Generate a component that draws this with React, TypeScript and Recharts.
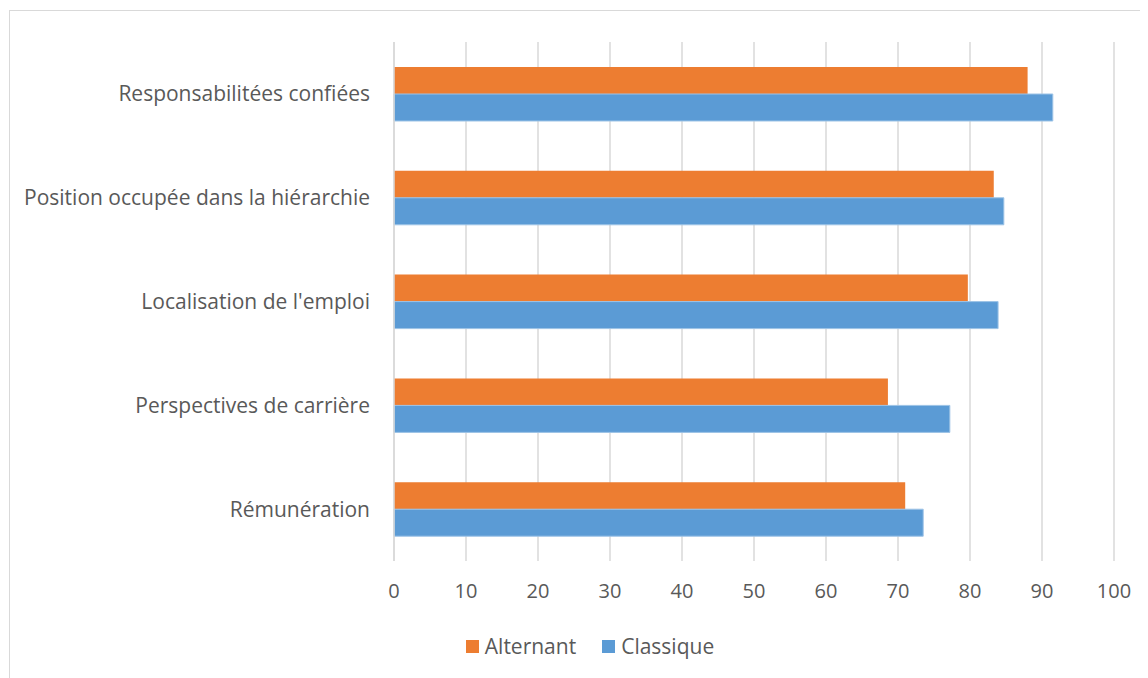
import { BarChart, Bar, XAxis, YAxis, CartesianGrid, Legend } from 'recharts';

const categories = [
  'Responsabilitées confiées',
  'Position occupée dans la hiérarchie',
  "Localisation de l'emploi",
  'Perspectives de carrière',
  'Rémunération',
];
const alternant = [88.0, 83.3, 79.7, 68.6, 71.0];
const classique = [91.5, 84.7, 83.9, 77.2, 73.5];
const xTicks = [0, 10, 20, 30, 40, 50, 60, 70, 80, 90, 100];

const data = categories.map((name, i) => ({
  name,
  Alternant: alternant[i],
  Classique: classique[i],
}));

const ORANGE = '#ED7D31';
const BLUE = '#5B9BD5';
const TEXT = '#595959';
const GRID = '#d9d9d9';

function LegendBox() {
  const item = (color: string, label: string, gap: number) => (
    <div style={{ display: 'flex', alignItems: 'center', marginRight: gap }}>
      <span style={{ width: 13, height: 13, background: color, display: 'inline-block', marginRight: 6 }} />
      <span style={{ color: TEXT, fontSize: 21, lineHeight: '26px' }}>{label}</span>
    </div>
  );
  return (
    <div style={{ display: 'flex', justifyContent: 'center', paddingLeft: 24, fontFamily: '"Open Sans", sans-serif' }}>
      {item(ORANGE, 'Alternant', 26)}
      {item(BLUE, 'Classique', 0)}
    </div>
  );
}

export default function App() {
  return (
    <div style={{ position: 'relative', width: 1140, height: 670, fontFamily: '"Open Sans", sans-serif' }}>
      <div
        style={{
          position: 'absolute',
          left: 1,
          top: 2,
          width: 1160,
          height: 700,
          borderLeft: '1.5px solid #d9d9d9',
          borderTop: '1.5px solid #d9d9d9',
          pointerEvents: 'none',
        }}
      />
      <BarChart
        width={1140}
        height={670}
        data={data}
        layout="vertical"
        margin={{ top: 34, right: 34, bottom: 0, left: 0 }}
        barGap={0}
        barSize={27}
      >
        <CartesianGrid horizontal={false} stroke={GRID} strokeWidth={1.5} />
        <XAxis
          type="number"
          domain={[0, 100]}
          ticks={xTicks}
          axisLine={false}
          tickLine={false}
          tickSize={0}
          tickMargin={23}
          height={91}
          tick={{ fill: TEXT, fontSize: 20 }}
        />
        <YAxis
          type="category"
          dataKey="name"
          width={386}
          axisLine={{ stroke: GRID, strokeWidth: 1.5 }}
          tickLine={false}
          tickSize={0}
          tickMargin={24}
          tick={{ fill: TEXT, fontSize: 21 }}
        />
        <Legend
          content={<LegendBox />}
          wrapperStyle={{ left: 0, width: 1140, top: 625 }}
        />
        <Bar dataKey="Alternant" fill={ORANGE} isAnimationActive={false} />
        <Bar dataKey="Classique" fill={BLUE} stroke="#9dc3e6" strokeWidth={1} isAnimationActive={false} />
      </BarChart>
    </div>
  );
}
